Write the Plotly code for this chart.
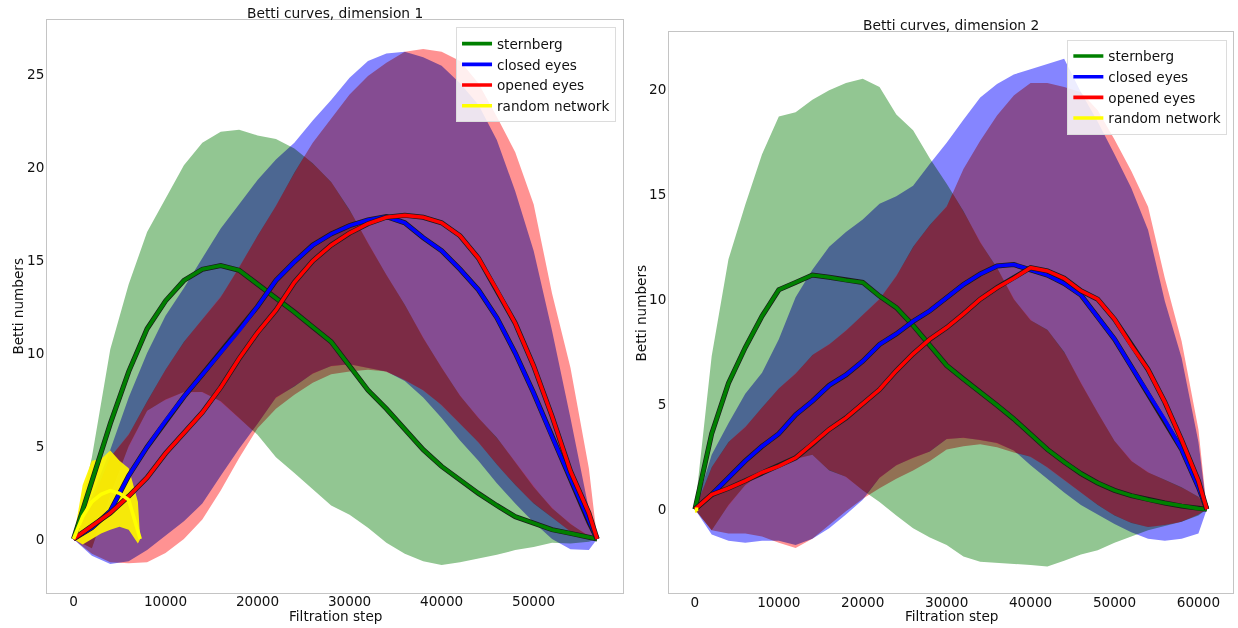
import numpy as np
import plotly.graph_objects as go

# ---------------- data: dimension 1 (left panel) ----------------
steps_d1 = [0, 2000, 4000, 6000, 8000, 10000, 12000, 14000, 16000, 18000, 20000, 22000,
            24000, 26000, 28000, 30000, 32000, 34000, 36000, 38000, 40000, 42000, 44000,
            46000, 48000, 50000, 52000, 54000, 56000, 56900]

stern_mean_d1 = [0, 3.1, 6.2, 9.0, 11.3, 12.8, 13.9, 14.5, 14.7, 14.45, 13.7, 13.0, 12.2, 11.4,
                 10.6, 9.3, 8.0, 7.0, 5.9, 4.8, 3.9, 3.15, 2.45, 1.8, 1.2, 0.85, 0.5, 0.3, 0.08, 0]
stern_up_d1 = [0, 4.4, 10.2, 13.7, 16.5, 18.3, 20.1, 21.3, 21.9, 22.0, 21.7, 21.5, 21.0, 20.2,
               19.2, 17.7, 15.9, 14.2, 12.6, 10.8, 9.2, 7.7, 6.5, 5.45, 4.15, 2.8, 1.65, 0.8, 0.15, 0]
stern_lo_d1 = [0, -0.5, 2.4, 5.0, 6.9, 7.5, 7.9, 7.9, 7.4, 6.5, 5.6, 4.4, 3.55, 2.7,
               1.8, 1.3, 0.6, -0.2, -0.8, -1.2, -1.4, -1.25, -1.05, -0.85, -0.6, -0.43, -0.2, -0.25, -0.15, 0]

closed_mean_d1 = [0, 0.6, 1.5, 3.4, 4.95, 6.35, 7.65, 8.85, 10.05, 11.2, 12.5, 13.9, 14.9, 15.8,
                  16.4, 16.85, 17.15, 17.33, 17.0, 16.2, 15.5, 14.5, 13.4, 11.9, 10.0, 7.85, 5.5, 3.25, 0.9, 0]
closed_up_d1 = [0, 2.3, 4.8, 7.6, 10.0, 12.0, 13.5, 15.1, 16.7, 18.0, 19.3, 20.4, 21.3, 22.5,
                23.6, 24.8, 25.7, 26.1, 26.2, 25.9, 25.45, 24.5, 23.35, 21.45, 18.7, 15.5, 11.2, 6.5, 1.6, 0]
closed_lo_d1 = [0, -0.9, -1.35, -1.2, -0.6, 0.15, 0.95, 1.9, 3.4, 4.85, 6.2, 7.6, 8.2, 8.9,
                9.3, 9.4, 9.2, 9.0, 8.5, 7.6, 6.5, 5.3, 4.2, 3.0, 1.9, 0.9, 0.0, -0.55, -0.6, 0]

opened_mean_d1 = [0, 0.7, 1.4, 2.3, 3.3, 4.6, 5.7, 6.8, 8.15, 9.7, 11.1, 12.3, 13.8, 14.95,
                  15.8, 16.45, 16.95, 17.3, 17.4, 17.3, 17.0, 16.3, 15.1, 13.4, 11.6, 9.3, 6.6, 3.65, 1.4, 0]
opened_up_d1 = [0, 2.0, 4.4, 5.6, 7.4, 9.1, 10.6, 11.8, 13.0, 14.6, 16.3, 17.9, 19.7, 21.3,
                22.6, 23.9, 24.9, 25.6, 26.2, 26.35, 26.2, 25.7, 24.5, 22.7, 20.8, 18.0, 13.2, 9.2, 3.8, 0]
opened_lo_d1 = [0, -0.8, -1.25, -1.3, -1.25, -0.75, 0.0, 1.05, 2.6, 4.35, 5.95, 7.0, 7.75, 8.4,
                8.85, 9.0, 9.1, 9.0, 8.55, 8.0, 7.2, 6.2, 5.2, 4.0, 2.9, 1.9, 1.15, 0.4, 0.0, 0]

rand_steps_d1 = [0, 1000, 2000, 3000, 4000, 5000, 6000, 7000, 7250]
rand_mean_d1 = [0, 1.2, 2.0, 2.4, 2.6, 2.45, 2.1, 0.5, 0]
rand_up_d1 = [0, 2.9, 4.2, 4.3, 4.75, 4.2, 3.8, 2.0, 0]
rand_lo_d1 = [0, -0.3, 0.0, 0.3, 0.5, 0.65, 0.5, -0.25, 0]

# ---------------- data: dimension 2 (right panel) ----------------
steps_d2 = [0, 2000, 4000, 6000, 8000, 10000, 12000, 14000, 16000, 18000, 20000, 22000,
            24000, 26000, 28000, 30000, 32000, 34000, 36000, 38000, 40000, 42000, 44000,
            46000, 48000, 50000, 52000, 54000, 56000, 58000, 60000, 61000]

stern_mean_d2 = [0, 3.6, 6.0, 7.7, 9.2, 10.45, 10.8, 11.15, 11.05, 10.9, 10.8, 10.15, 9.6, 8.75,
                 7.8, 6.85, 6.2, 5.6, 4.95, 4.3, 3.55, 2.85, 2.25, 1.7, 1.25, 0.9, 0.65, 0.45,
                 0.3, 0.15, 0.03, 0]
stern_up_d2 = [0, 7.3, 11.9, 14.5, 16.9, 18.7, 18.9, 19.5, 19.95, 20.3, 20.5, 20.1, 18.8, 18.05,
               16.7, 15.5, 14.2, 12.7, 11.5, 10.0, 9.0, 8.55, 7.5, 6.0, 4.6, 3.25, 2.3, 1.75,
               1.4, 1.05, 0.6, 0]
stern_lo_d2 = [0, -1.0, 0.2, 1.15, 1.75, 2.05, 2.4, 2.6, 1.85, 1.55, 0.9, 0.35, -0.3, -0.9,
               -1.35, -1.7, -2.25, -2.5, -2.55, -2.6, -2.65, -2.72, -2.45, -2.15, -1.95, -1.6,
               -1.3, -1.0, -0.8, -0.6, -0.3, 0]

closed_mean_d2 = [0, 0.7, 1.5, 2.3, 3.0, 3.6, 4.5, 5.15, 5.9, 6.4, 7.05, 7.85, 8.35, 8.95,
                  9.45, 10.05, 10.7, 11.2, 11.58, 11.65, 11.42, 11.15, 10.75, 10.2, 9.15, 8.1,
                  6.8, 5.5, 4.25, 2.85, 1.05, 0]
closed_up_d2 = [0, 2.6, 4.1, 5.5, 6.5, 8.1, 10.1, 11.4, 12.5, 13.2, 13.8, 14.55, 14.9, 15.4,
                16.45, 17.45, 18.55, 19.6, 20.25, 20.7, 20.95, 21.2, 21.45, 19.85, 18.45, 16.9,
                15.3, 13.3, 9.9, 7.2, 3.2, 0]
closed_lo_d2 = [0, -1.2, -1.5, -1.6, -1.5, -1.5, -1.7, -1.4, -0.9, -0.25, 0.45, 1.5, 2.1, 2.45,
                2.75, 3.35, 3.4, 3.3, 3.15, 2.8, 2.1, 1.45, 0.8, 0.2, -0.25, -0.7, -1.1, -1.4,
                -1.5, -1.4, -1.15, 0]

opened_mean_d2 = [0, 0.7, 1.0, 1.35, 1.75, 2.05, 2.45, 3.1, 3.8, 4.35, 5.0, 5.7, 6.6, 7.4,
                  8.1, 8.65, 9.3, 10.0, 10.55, 11.0, 11.5, 11.35, 11.0, 10.4, 10.0, 9.05, 7.8,
                  6.65, 5.1, 3.3, 1.35, 0]
opened_up_d2 = [0, 2.0, 3.2, 3.9, 4.85, 5.75, 6.45, 7.35, 7.85, 8.5, 9.25, 10.0, 11.1, 12.5,
                13.55, 14.4, 16.2, 17.55, 18.75, 19.7, 20.3, 20.3, 20.1, 19.85, 19.0, 17.6, 16.1,
                14.4, 11.0, 8.0, 3.8, 0]
opened_lo_d2 = [0, -1.0, -1.15, -1.15, -1.3, -1.6, -1.85, -1.4, -0.75, -0.1, 0.5, 1.0, 1.45, 1.85,
                2.3, 2.85, 3.0, 3.1, 2.95, 2.7, 2.5, 2.0, 1.4, 0.8, 0.2, -0.3, -0.65, -0.85,
                -0.75, -0.6, -0.25, 0]

rand_steps_d2 = [0, 200, 400]
rand_mean_d2 = [0, 0, 0]
rand_up_d2 = [0.15, 0.18, 0.0]
rand_lo_d2 = [-0.15, -0.18, 0.0]

series_names = ["sternberg", "closed eyes", "opened eyes", "random network"]
line_colors = ["#008000", "#0000ff", "#ff0000", "#ffff00"]
fill_colors = ["rgba(0,128,0,0.43)", "rgba(0,0,255,0.48)", "rgba(255,0,0,0.43)", "rgba(255,245,0,0.93)"]
triple_tint = "rgba(255,0,30,0.27)"

panels = [
    dict(steps=steps_d1, xa="x", ya="y", legend="legend",
         series=[(stern_mean_d1, stern_up_d1, stern_lo_d1),
                 (closed_mean_d1, closed_up_d1, closed_lo_d1),
                 (opened_mean_d1, opened_up_d1, opened_lo_d1)],
         rand=(rand_steps_d1, rand_mean_d1, rand_up_d1, rand_lo_d1)),
    dict(steps=steps_d2, xa="x2", ya="y2", legend="legend2",
         series=[(stern_mean_d2, stern_up_d2, stern_lo_d2),
                 (closed_mean_d2, closed_up_d2, closed_lo_d2),
                 (opened_mean_d2, opened_up_d2, opened_lo_d2)],
         rand=(rand_steps_d2, rand_mean_d2, rand_up_d2, rand_lo_d2)),
]


def common_overlap(xs, series):
    """Region covered by all three bands (used for the extra tint of the triple overlap)."""
    xf = np.union1d(np.arange(xs[0], xs[-1], 100.0), np.array(xs, dtype=float))
    lo = np.max([np.interp(xf, xs, s[2]) for s in series], axis=0)
    up = np.min([np.interp(xf, xs, s[1]) for s in series], axis=0)
    up = np.where(up > lo, up, lo)
    return xf, lo, up


fig = go.Figure()

for p in panels:
    xs = p["steps"]
    for i, (m, up, lo) in enumerate(p["series"]):
        fig.add_trace(go.Scatter(
            x=xs + xs[::-1], y=up + lo[::-1], fill="toself", fillcolor=fill_colors[i],
            line=dict(width=0), mode="lines", hoverinfo="skip", showlegend=False,
            xaxis=p["xa"], yaxis=p["ya"]))
    xf, tlo, tup = common_overlap(xs, p["series"])
    fig.add_trace(go.Scatter(
        x=np.concatenate([xf, xf[::-1]]), y=np.concatenate([tup, tlo[::-1]]),
        fill="toself", fillcolor=triple_tint, line=dict(width=0), mode="lines",
        hoverinfo="skip", showlegend=False, xaxis=p["xa"], yaxis=p["ya"]))
    rx, rm, ru, rl = p["rand"]
    fig.add_trace(go.Scatter(
        x=rx + rx[::-1], y=ru + rl[::-1], fill="toself", fillcolor=fill_colors[3],
        line=dict(width=0), mode="lines", hoverinfo="skip", showlegend=False,
        xaxis=p["xa"], yaxis=p["ya"]))
    for i, (m, up, lo) in enumerate(p["series"]):
        fig.add_trace(go.Scatter(
            x=xs, y=m, mode="lines", line=dict(color="#1a1a1a", width=5.0),
            hoverinfo="skip", showlegend=False, xaxis=p["xa"], yaxis=p["ya"]))
        fig.add_trace(go.Scatter(
            x=xs, y=m, mode="lines", name=series_names[i],
            line=dict(color=line_colors[i], width=3.6),
            legend=p["legend"], xaxis=p["xa"], yaxis=p["ya"]))
    fig.add_trace(go.Scatter(
        x=rx, y=rm, mode="lines", name=series_names[3],
        line=dict(color="#ffff00", width=3.6),
        legend=p["legend"], xaxis=p["xa"], yaxis=p["ya"]))

font_family = "DejaVu Sans"
axis_common = dict(showgrid=False, zeroline=False, showline=True, mirror=True,
                   linecolor="#c4c4c4", linewidth=1.3, ticks="", tickformat="d",
                   tickfont=dict(family=font_family, size=13.6, color="#111"))
x_axis_style = dict(ticklabelstandoff=-4, **axis_common)
y_axis_style = dict(ticklabelstandoff=-1, **axis_common)

legend_common = dict(bgcolor="rgba(255,255,255,0.85)", bordercolor="#dcdcdc", borderwidth=1,
                     font=dict(family=font_family, size=13.6, color="#111"),
                     xanchor="right", yanchor="top", traceorder="normal", itemwidth=30,
                     tracegroupgap=0)

fig.update_layout(
    width=1238, height=628, margin=dict(l=0, r=0, t=0, b=0),
    paper_bgcolor="white", plot_bgcolor="white",
    font=dict(family=font_family, size=13.6, color="#111"),
    xaxis=dict(domain=[0.0382, 0.5035], range=[-2845, 59745],
               tickvals=[0, 10000, 20000, 30000, 40000, 50000], anchor="y", **x_axis_style),
    yaxis=dict(domain=[0.0562, 0.9674], range=[-2.89, 27.88],
               tickvals=[0, 5, 10, 15, 20, 25], anchor="x", **y_axis_style),
    xaxis2=dict(domain=[0.5406, 0.9962], range=[-3056, 64156],
                tickvals=[0, 10000, 20000, 30000, 40000, 50000, 60000], anchor="y2", **x_axis_style),
    yaxis2=dict(domain=[0.0553, 0.9486], range=[-4.0, 22.71],
                tickvals=[0, 5, 10, 15, 20], anchor="x2", **y_axis_style),
    legend=dict(x=0.4976, y=0.9565, **legend_common),
    legend2=dict(x=0.9914, y=0.9368, **legend_common),
    showlegend=True,
)

annots = [
    dict(text="Betti curves, dimension 1", x=0.2708, y=0.9793, textangle=0, size=13.8),
    dict(text="Betti curves, dimension 2", x=0.7684, y=0.9602, textangle=0, size=13.8),
    dict(text="Filtration step", x=0.2708, y=0.0197, textangle=0, size=13.6),
    dict(text="Filtration step", x=0.7684, y=0.0197, textangle=0, size=13.6),
    dict(text="Betti numbers", x=0.01454, y=0.5118, textangle=-90, size=13.6),
    dict(text="Betti numbers", x=0.5175, y=0.5019, textangle=-90, size=13.6),
]
for a in annots:
    sz = a.pop("size")
    fig.add_annotation(xref="paper", yref="paper", showarrow=False, xanchor="center",
                       yanchor="middle", font=dict(family=font_family, size=sz, color="#111"), **a)

post_js = """
document.body.style.margin = '0';
var gd = document.getElementById('{plot_id}');
var BAND = {'rgb(0, 128, 0)': 'rgb(146, 198, 146)',
            'rgb(0, 0, 255)': 'rgb(133, 133, 255)',
            'rgb(255, 0, 0)': 'rgb(255, 146, 146)'};
function blendBands() {
  gd.querySelectorAll('path.js-fill').forEach(function (p) {
    var f = p.style.fill;
    if (BAND[f]) {
      p.style.fill = BAND[f];
      p.style.fillOpacity = '1';
      p.style.mixBlendMode = 'multiply';
    }
  });
}
blendBands();
if (gd.on) { gd.on('plotly_afterplot', blendBands); }
"""

fig.write_html("out.html", post_script=post_js, config={"displayModeBar": False})
